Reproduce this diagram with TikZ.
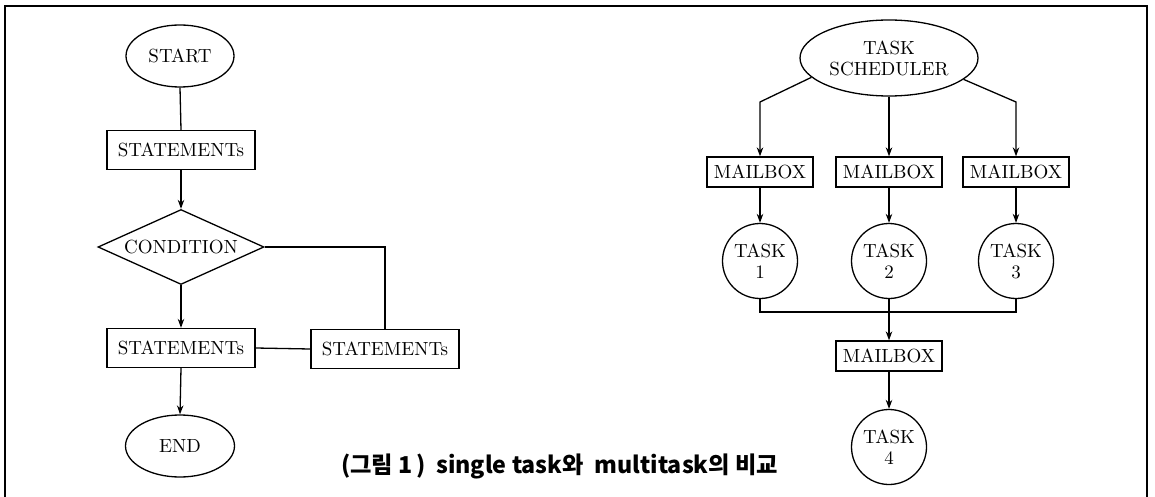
\documentclass[tikz,border=0pt]{standalone}
\usepackage{fontspec}
\setmainfont{lmroman10-regular.otf}
\newfontfamily\krfont{Noto Sans CJK KR}
\usetikzlibrary{shapes.geometric,arrows.meta}
\begin{document}
\begin{tikzpicture}[x=1pt,y=-1pt,
  every node/.style={font=\fontsize{19}{21}\selectfont, inner sep=0pt, line width=1.3pt},
  oval/.style={draw, ellipse, align=center},
  stbox/.style={draw, rectangle, minimum width=148pt, minimum height=39pt},
  mbox/.style={draw, rectangle, minimum width=106pt, minimum height=30pt},
  decide/.style={draw, diamond, aspect=2.2, minimum width=166pt, minimum height=75pt},
  taskc/.style={draw, circle, minimum size=75pt, align=center},
  conn/.style={line width=1.3pt},
  arr/.style={conn, -{Stealth[length=9pt,width=6.5pt,inset=3pt]}}]
\useasboundingbox (0,0) rectangle (1155,497);
\fill[white] (0,0) rectangle (1155,497);

% outer frame (open at the bottom edge of the page)
\draw[line width=2pt] (5,497) -- (5,6) -- (1147,6) -- (1147,497);

% ---- single task flow ----
\node[oval, minimum width=108pt, minimum height=62pt] (start) at (180,56) {START};
\node[stbox] (st1) at (181,150) {STATEMENTs};
\node[decide] (cond) at (181,247) {CONDITION};
\node[stbox] (st2) at (181,348) {STATEMENTs};
\node[stbox] (st3) at (385,349) {STATEMENTs};
\node[oval, minimum width=109pt, minimum height=62pt] (endn) at (180,446) {END};

\draw[conn] (start.south) -- (st1.north);
\draw[arr] (st1.south) -- (cond.north);
\draw[arr] (cond.south) -- (st2.north);
\draw[arr] (st2.south) -- (endn.north);
\draw[conn] (cond.east) -- (st3.north |- cond.east) -- (st3.north);
\draw[conn] (st2.east) -- (st3.west);

% ---- multitask structure ----
\node[oval, minimum width=178pt, minimum height=76pt] (sched) at (889,58) {TASK\\SCHEDULER};
\node[mbox] (mb1) at (760,172) {MAILBOX};
\node[mbox] (mb2) at (889,172) {MAILBOX};
\node[mbox] (mb3) at (1016,172) {MAILBOX};
\node[taskc] (t1) at (760,261) {TASK\\1};
\node[taskc] (t2) at (889,261) {TASK\\2};
\node[taskc] (t3) at (1016,261) {TASK\\3};
\node[mbox] (mb4) at (889,356) {MAILBOX};
\node[taskc] (t4) at (889,447) {TASK\\4};

\coordinate (kl) at (760,102);
\coordinate (kr) at (1016,102);
\coordinate (jn) at (889,312);

\draw[arr] (sched.194) -- (kl) -- (mb1.north);
\draw[arr] (sched.south) -- (mb2.north);
\draw[arr] (sched.344) -- (kr) -- (mb3.north);
\draw[arr] (mb1.south) -- (t1.north);
\draw[arr] (mb2.south) -- (t2.north);
\draw[arr] (mb3.south) -- (t3.north);
\draw[conn] (t1.south) -- (t1.south |- jn) -- (t3.south |- jn) -- (t3.south);
\draw[arr] (t2.south) -- (mb4.north);
\draw[arr] (mb4.south) -- (t4.north);

% ---- caption ----
\node[font=\krfont\bfseries] (cap) at (559.5,466)
  {\resizebox{437pt}{!}{(그림 1\,)\ \ single task와\ \ multitask의 비교}};
\end{tikzpicture}
\end{document}
